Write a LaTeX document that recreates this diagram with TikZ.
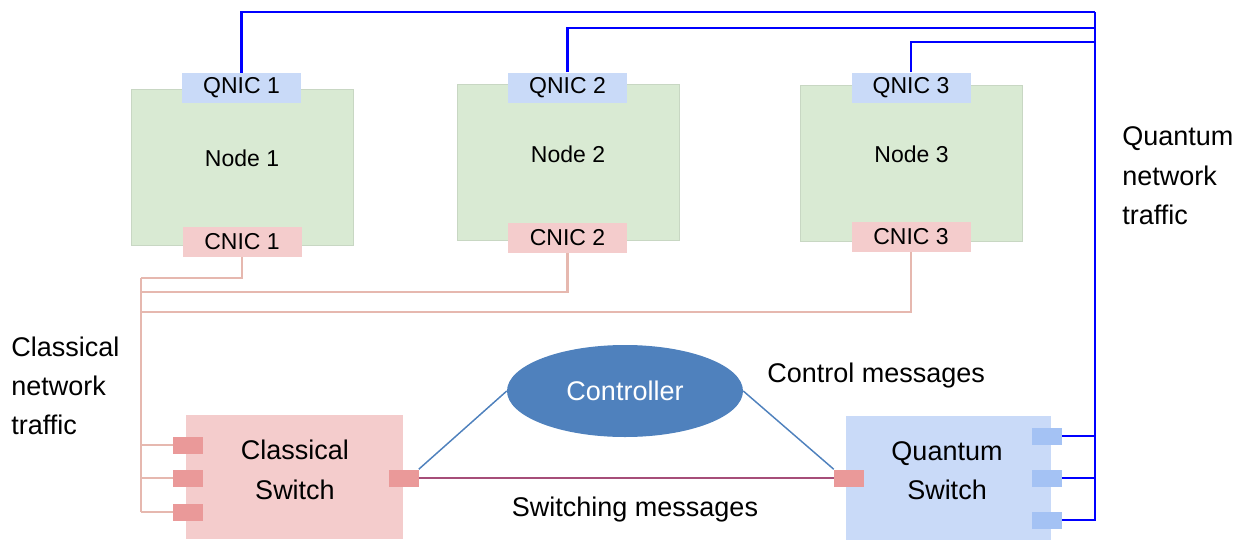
\documentclass[tikz,border=0pt]{standalone}
\usepackage{fontspec}
\setmainfont{Liberation Sans}
\usepackage{tikz}
\usetikzlibrary{shapes.geometric}

\definecolor{hostgreen}{RGB}{217,234,211}
\definecolor{hostedge}{RGB}{200,215,195}
\definecolor{nicblue}{RGB}{201,218,248}
\definecolor{nicpink}{RGB}{244,204,204}
\definecolor{portred}{RGB}{234,153,153}
\definecolor{portblue}{RGB}{164,194,244}
\definecolor{ctrlblue}{RGB}{79,129,189}
\definecolor{cwire}{RGB}{230,184,175}
\definecolor{swwire}{RGB}{166,77,121}

\newcommand\lblsmall{\fontsize{17.25}{20}\selectfont}
\newcommand\lblbig{\fontsize{20.25}{29.5}\selectfont}

\begin{document}
\begin{tikzpicture}[x=0.75pt,y=0.75pt,yscale=-1,xscale=1,
  host/.style={fill=hostgreen,draw=hostedge,line width=0.5pt,inner sep=0pt,minimum width=166.5pt,minimum height=117pt},
  nic/.style={inner sep=0pt,minimum width=89.25pt,minimum height=22.5pt,font=\lblsmall},
  switchbox/.style={inner sep=0pt,minimum height=93pt},
  port/.style={inner sep=0pt,minimum width=22.5pt,minimum height=12.75pt},
  qline/.style={draw=blue,line width=2.2pt},
  cline/.style={draw=cwire,line width=2.2pt},
  txt/.style={inner sep=0.75pt,font=\lblbig,align=left}]
\useasboundingbox (0,0) rectangle (1242,539);

%Shape: Rectangle (hosts)
\node[host] (node1) at (242,167) {};
\node[host] (node2) at (568,162.5) {};
\node[host] (node3) at (911.5,163) {};
% Text Node
\node[font=\lblsmall] (node1lbl) at (242,158) {Node 1};
\node[font=\lblsmall] (node2lbl) at (568,154) {Node 2};
\node[font=\lblsmall] (node3lbl) at (911.5,154) {Node 3};

%Shape: Rectangle (nics)
\node[nic,fill=nicblue] (qnic1) at (241.5,88) {QNIC 1};
\node[nic,fill=nicblue] (qnic2) at (567.5,87.5) {QNIC 2};
\node[nic,fill=nicblue] (qnic3) at (911,87.5) {QNIC 3};
\node[nic,fill=nicpink] (cnic1) at (242,242) {CNIC 1};
\node[nic,fill=nicpink] (cnic2) at (567.5,238) {CNIC 2};
\node[nic,fill=nicpink] (cnic3) at (911,236.5) {CNIC 3};

%Shape: Rectangle (switches)
\node[switchbox,fill=nicpink,minimum width=162.75pt] (csw) at (294.5,477) {};
\node[switchbox,fill=nicblue,minimum width=153.75pt] (qsw) at (948.5,477.5) {};
% Text Node
\node[txt,align=center] (cswlbl) at (295,470) {Classical\\Switch};
\node[txt,align=center] (qswlbl) at (947,471) {Quantum\\Switch};

%Shape: Rectangle (ports)
\node[port,fill=portred] (cp1) at (188,445) {};
\node[port,fill=portred] (cp2) at (188,478) {};
\node[port,fill=portred] (cp3) at (188,512) {};
\node[port,fill=portred] (cpr) at (403.5,478) {};
\node[port,fill=portred] (qpl) at (849,478) {};
\node[port,fill=portblue] (qp1) at (1047,436) {};
\node[port,fill=portblue] (qp2) at (1047,478) {};
\node[port,fill=portblue] (qp3) at (1047,520) {};

%Shape: Ellipse
\node[ellipse,fill=ctrlblue,inner sep=0pt,minimum width=177pt,minimum height=69pt,
  text=white,font=\lblbig] (ctrl) at (625,391) {Controller};

%Straight Lines (quantum traffic)
\coordinate (qa) at (1095,12);
\coordinate (qb) at (1095,28);
\coordinate (qc) at (1095,42);
\coordinate (qz) at (1095,521);
\draw[qline] (qnic1.north) |- (qa);
\draw[qline] (qnic2.north) |- (qb);
\draw[qline] (qnic3.north) |- (qc);
\draw[qline] (qa) -- (qz);
\draw[qline] (qp1.east) -- (qp1.east -| qa);
\draw[qline] (qp2.east) -- (qp2.east -| qa);
\draw[qline] (qp3.east) -- (qp3.east -| qa);

%Straight Lines (classical traffic)
\coordinate (ca) at (141,278);
\coordinate (cb) at (141,292);
\coordinate (cc) at (141,312);
\coordinate (cz) at (141,512);
\draw[cline] (cnic1.south) |- (ca);
\draw[cline] (cnic2.south) |- (cb);
\draw[cline] (cnic3.south) |- (cc);
\draw[cline] (ca) -- (cz);
\draw[cline] (cp1.west) -- (cp1.west -| ca);
\draw[cline] (cp2.west) -- (cp2.west -| ca);
\draw[cline] (cp3.west) -- (cp3.west -| ca);

%Straight Lines (messages)
\draw[ctrlblue,line width=1.1pt] (ctrl.west) -- (cpr.north east);
\draw[ctrlblue,line width=1.1pt] (ctrl.east) -- (qpl.north west);
\draw[swwire,line width=1.1pt] (cpr.east) -- (qpl.west);

% Text Node
\node[txt,anchor=west] (cltraffic) at (10,386) {Classical\\network\\traffic};
\node[txt,anchor=west] (qtraffic) at (1121,176) {Quantum\\network\\traffic};
\node[txt,anchor=west] (ctrlmsg) at (766,376) {Control messages};
\node[txt] (swmsg) at (635,510) {Switching messages};

\end{tikzpicture}
\end{document}
